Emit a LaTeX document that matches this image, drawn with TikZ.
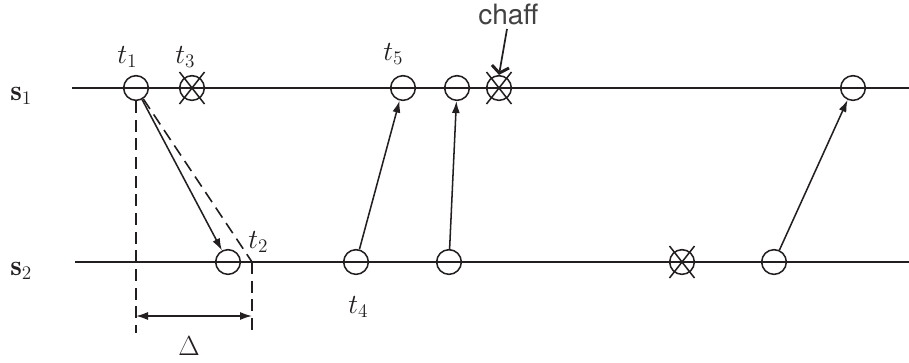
\documentclass[tikz,border=0pt]{standalone}
\usepackage{fontspec}
\newfontfamily\helv{TeX Gyre Heros}
\usetikzlibrary{arrows.meta}
\definecolor{ink}{HTML}{231F20}
\begin{document}
\begin{tikzpicture}[x=0.75pt,y=-0.75pt,
  ln/.style={draw=ink,line width=1.15pt},
  ev/.style={circle,draw=ink,line width=1.15pt,inner sep=0pt,minimum size=18.5pt},
  lbl/.style={anchor=base west,inner sep=0pt,text=ink,font=\fontsize{22}{26}\selectfont},
  dsh/.style={ln,dash pattern=on 9pt off 5pt},
  arr/.style={ln,-{Latex[length=9pt,width=6pt]}},
  darr/.style={ln,{Latex[length=9pt,width=6pt]}-{Latex[length=9pt,width=6pt]}}]
\useasboundingbox (0,0) rectangle (909,362);
% time lines
\coordinate (s1a) at (72,88); \coordinate (s1b) at (909,88);
\coordinate (s2a) at (75,262); \coordinate (s2b) at (909,262);
\draw[ln] (s1a) -- (s1b);
\draw[ln] (s2a) -- (s2b);
% labels of lines
\node[lbl] (ls1) at (10,100) {$\mathbf{s}_1$};
\node[lbl] (ls2) at (10,275) {$\mathbf{s}_2$};
% events on s1
\node[ev] (t1) at (136,88) {};
\node[ev] (t3) at (192,88) {};
\node[ev] (t5) at (403,88) {};
\node[ev] (u1) at (457,88) {};
\node[ev] (ch) at (499,88) {};
\node[ev] (u2) at (853,88) {};
% events on s2
\node[ev] (t2) at (228,262) {};
\node[ev] (t4) at (356,262) {};
\node[ev] (v1) at (449,262) {};
\node[ev] (x2) at (682,262) {};
\node[ev] (v2) at (774,262) {};
% crosses
\foreach \n in {t3,ch,x2}{
  \draw[ln] (\n.center) ++(-12.5,-16) -- ++(25,32);
  \draw[ln] (\n.center) ++(12.5,-16) -- ++(-25,32);
}
% arrows
\draw[arr] (t1) -- (t2);
\draw[arr] (t4) -- (t5);
\draw[arr] (v1) -- (u1);
\draw[arr] (v2) -- (u2);
% delay construction
\coordinate (d1) at (252,262);
\coordinate (b1) at (136,333);
\coordinate (b2) at (252,333);
\coordinate (a1) at (136,316);
\coordinate (a2) at (252,316);
\draw[dsh] (t1) -- (d1);
\draw[dsh] (t1.south) -- (b1);
\draw[dsh] (d1) -- (b2);
\draw[darr] (a1) -- (a2);
% labels
\node[lbl] (lt1) at (117,63) {$t_1$};
\node[lbl] (lt3) at (175,63) {$t_3$};
\node[lbl] (lt2) at (248,248) {$t_2$};
\node[lbl] (lt5) at (383,60) {$t_5$};
\node[lbl] (lt4) at (348,313) {$t_4$};
\node[lbl] (ld) at (178,355) {$\Delta$};
\node[anchor=base west,inner sep=0pt,text=ink!85,font=\helv\fontsize{21}{24}\selectfont] (lch) at (478,24) {chaff};
\coordinate (chs) at (507,29);
\draw[draw=ink,line width=1.3pt,-{Straight Barb[length=5pt,width=13pt,line width=2.2pt]}] (chs) -- (ch.north);
\end{tikzpicture}
\end{document}
